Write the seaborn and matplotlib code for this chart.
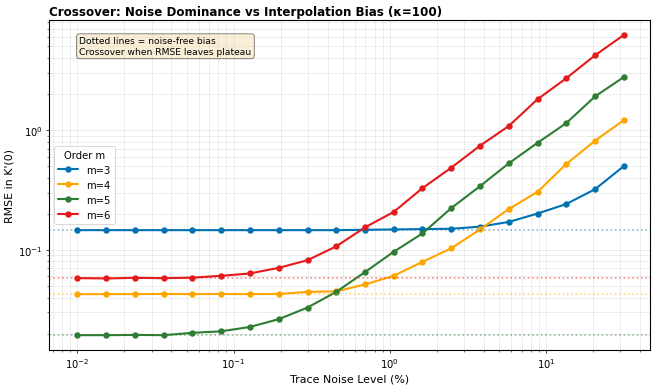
import numpy as np
import pandas as pd
import matplotlib
matplotlib.use("Agg")
import matplotlib.pyplot as plt
import seaborn as sns

# noise levels (%)
noise = [0.01, 0.0153, 0.0234, 0.0357, 0.0546, 0.0834, 0.127, 0.195, 0.298,
         0.455, 0.695, 1.06, 1.62, 2.48, 3.79, 5.79, 8.86, 13.5, 20.7, 31.6]

rmse_m3 = [0.146, 0.146, 0.146, 0.146, 0.146, 0.146, 0.146, 0.146, 0.146,
           0.146, 0.147, 0.148, 0.149, 0.150, 0.156, 0.171, 0.201, 0.241,
           0.321, 0.50]
rmse_m4 = [0.0427, 0.0427, 0.0427, 0.0428, 0.0427, 0.0428, 0.0427, 0.0428,
           0.0446, 0.0450, 0.0514, 0.0607, 0.0794, 0.103, 0.148, 0.219,
           0.305, 0.52, 0.815, 1.21]
rmse_m5 = [0.0194, 0.0194, 0.0195, 0.0194, 0.0203, 0.0209, 0.0227, 0.0264,
           0.0330, 0.0446, 0.0652, 0.0963, 0.137, 0.223, 0.34, 0.527,
           0.783, 1.14, 1.91, 2.77]
rmse_m6 = [0.0581, 0.0577, 0.0584, 0.0580, 0.0586, 0.0607, 0.0635, 0.0708,
           0.0820, 0.107, 0.154, 0.207, 0.327, 0.485, 0.74, 1.08, 1.81,
           2.70, 4.21, 6.22]

orders = ["m=3", "m=4", "m=5", "m=6"]
bias = [0.146, 0.0427, 0.0194, 0.0580]  # noise-free bias per order
COLORS = ["#0072B2", "#FFA500", "#2E7D32", "#E41A1C"]

sns.set_style("ticks")
plt.rcParams.update({"text.color": "black", "axes.labelcolor": "black",
                     "xtick.color": "black", "ytick.color": "black"})

df = pd.concat([
    pd.DataFrame({"noise": noise, "rmse": vals, "order": name})
    for name, vals in zip(orders, [rmse_m3, rmse_m4, rmse_m5, rmse_m6])
])

fig, ax = plt.subplots(figsize=(10, 5.92), dpi=65.7)
fig.subplots_adjust(left=0.075, right=0.99, top=0.946, bottom=0.098)

sns.lineplot(data=df, x="noise", y="rmse", hue="order", palette=COLORS,
             marker="o", markersize=7, markeredgewidth=0, linewidth=2.3,
             ax=ax)

for b, c in zip(bias, COLORS):
    ax.axhline(b, color=c, linestyle=":", linewidth=1.8, alpha=0.5)

ax.set_xscale("log")
ax.set_yscale("log")
ax.set_xlim(10 ** -2.18, 10 ** 1.67)
ax.set_ylim(10 ** -1.835, 10 ** 0.918)
ax.grid(True, which="both", color="#b0b0b0", linewidth=0.8, alpha=0.3)

ax.set_xlabel("Trace Noise Level (%)", fontsize=12)
ax.set_ylabel("RMSE in K'(0)", fontsize=12)
ax.set_title("Crossover: Noise Dominance vs Interpolation Bias (κ=100)",
             fontsize=13, fontweight="bold", loc="left")
ax.tick_params(labelsize=11)
for sp in ax.spines.values():
    sp.set_color("black")
    sp.set_linewidth(1.2)

leg = ax.legend(title="Order m", loc="center left", fontsize=11,
                title_fontsize=11, frameon=True, fancybox=True)
leg.get_frame().set_edgecolor("#cccccc")
ax.text(0.05, 0.95, "Dotted lines = noise-free bias\nCrossover when RMSE leaves plateau",
        transform=ax.transAxes, va="top", fontsize=10,
        bbox=dict(boxstyle="round", facecolor="wheat", edgecolor="black",
                  alpha=0.5))

fig.savefig("out.png", dpi=65.7)
